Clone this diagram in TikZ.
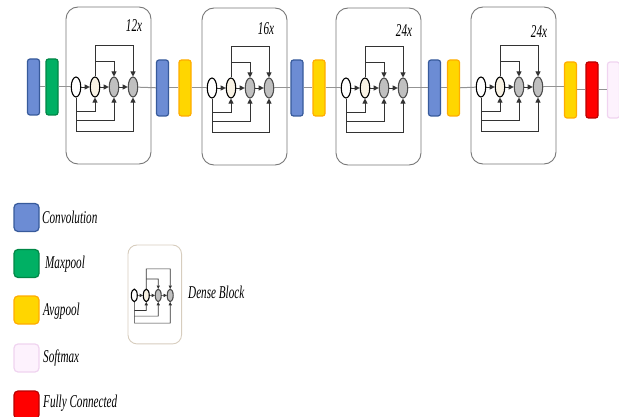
\documentclass[tikz,border=0pt]{standalone}
\usepackage{fontspec}
\setmainfont{Liberation Serif}
\usetikzlibrary{shapes.geometric,arrows.meta}
\definecolor{convF}{RGB}{108,140,212}
\definecolor{convD}{RGB}{55,90,155}
\definecolor{mpF}{RGB}{0,176,100}
\definecolor{mpD}{RGB}{0,135,70}
\definecolor{avF}{RGB}{255,214,0}
\definecolor{avD}{RGB}{255,172,0}
\definecolor{fcF}{RGB}{255,0,0}
\definecolor{fcD}{RGB}{185,0,0}
\definecolor{smF}{RGB}{253,242,253}
\definecolor{smD}{RGB}{240,212,240}
\definecolor{cream}{RGB}{248,242,228}
\definecolor{cgray}{RGB}{192,192,192}
\definecolor{boxD}{RGB}{120,120,120}
\definecolor{legD}{RGB}{215,205,190}
\newcommand{\lbl}[2][18]{\scalebox{0.62}[1]{\fontsize{#1}{#1}\selectfont\itshape #2}}
\def\dbA{5pt}
\def\dbR{12pt}
\def\dbW{0.8pt}
\tikzset{
  layer/.style={draw, rounded corners=2.5pt, line width=1.2pt, minimum width=12pt, minimum height=56pt, inner sep=0pt},
  conv/.style={layer, fill=convF, draw=convD},
  maxp/.style={layer, fill=mpF, draw=mpD},
  avgp/.style={layer, fill=avF, draw=avD},
  fullc/.style={layer, fill=fcF, draw=fcD},
  softm/.style={layer, fill=smF, draw=smD},
  swatch/.style={draw, rounded corners=4pt, line width=1.2pt, minimum width=25pt, minimum height=28pt, inner sep=0pt},
  mainline/.style={draw=gray!85, line width=1pt},
  cell/.style={ellipse, draw=black, line width=1.1pt, minimum width=9.5pt, minimum height=20pt, inner sep=0pt},
  dline/.style={draw=black!80, line width=\dbW},
  darr/.style={dline, -{Triangle[length=\dbA,width=\dbA]}},
  legtext/.style={anchor=west, inner sep=0pt},
  pics/dense/.style={code={
    \draw[draw=#1, line width=0.9pt, rounded corners=\dbR] (0,0) rectangle (85,157);
    \node[cell, fill=white] (-c1) at (10,80) {};
    \node[cell, fill=cream] (-c2) at (29,80) {};
    \node[cell, fill=cgray, draw=black!70] (-c3) at (48,80) {};
    \node[cell, fill=cgray, draw=black!70] (-c4) at (67,80) {};
    \draw[darr] (-c1) -- (-c2);
    \draw[darr] (-c2) -- (-c3);
    \draw[darr] (-c3) -- (-c4);
    \draw[darr] (-c2.north) -- (29,38) -- (67,38) -- (-c4.north);
    \draw[darr] (29,54) -- (48,54) -- (-c3.north);
    \draw[dline] (-c1.south) -- (10,124);
    \draw[darr] (10,104) -- (29,104) -- (-c2.south);
    \draw[darr] (10,113) -- (48,113) -- (-c3.south);
    \draw[darr] (10,124) -- (67,124) -- (-c4.south);
  }}
}
\begin{document}
\begin{tikzpicture}[x=1pt,y=-1pt]
\useasboundingbox (0,0) rectangle (619,417);
% main row
\node[conv] (cv1) at (33.5,87) {};
\node[maxp] (mp1) at (52,87) {};
\pic (b1) at (66,7) {dense=boxD};
\node[conv] (cv2) at (162.5,88) {};
\node[avgp] (av1) at (185,88) {};
\pic (b2) at (202,8) {dense=boxD};
\node[conv] (cv3) at (297,88) {};
\node[avgp] (av2) at (319,88) {};
\pic (b3) at (336,8) {dense=boxD};
\node[conv] (cv4) at (434.5,88) {};
\node[avgp] (av3) at (453.5,88) {};
\pic (b4) at (471,7) {dense=boxD};
\node[avgp] (av4) at (570.5,90) {};
\node[fullc] (fc1) at (592,90) {};
\node[softm] (sm1) at (613.5,90) {};
% repetition labels
\node (n1) at (134,26) {\lbl{12x}};
\node (n2) at (266,29) {\lbl{16x}};
\node (n3) at (404,31) {\lbl{24x}};
\node (n4) at (539,32) {\lbl{24x}};
% main line
\draw[mainline] (cv1) -- (mp1);
\draw[mainline] (mp1) -- (b1-c1);
\draw[mainline] (b1-c4) -- (cv2);
\draw[mainline] (cv2) -- (av1);
\draw[mainline] (av1) -- (b2-c1);
\draw[mainline] (b2-c4) -- (cv3);
\draw[mainline] (cv3) -- (av2);
\draw[mainline] (av2) -- (b3-c1);
\draw[mainline] (b3-c4) -- (cv4);
\draw[mainline] (cv4) -- (av3);
\draw[mainline] (av3) -- (b4-c1);
\draw[mainline] (b4-c4.east) -- (av4.west |- b4-c4.east);
\draw[mainline] (av4) -- (fc1);
\draw[mainline] (fc1) -- (sm1);
% legend
\node[swatch, fill=convF, draw=convD] (lg1) at (26.5,217.5) {};
\node[legtext] (lt1) at (42,217) {\lbl{Convolution}};
\node[swatch, fill=mpF, draw=mpD] (lg2) at (26.5,263.5) {};
\node[legtext] (lt2) at (45,264) {\lbl{Maxpool}};
\node[swatch, fill=avF, draw=avD] (lg3) at (26.5,310) {};
\node[legtext] (lt3) at (43,311) {\lbl{Avgpool}};
\node[swatch, fill=smF, draw=smD] (lg4) at (26.5,358) {};
\node[legtext] (lt4) at (43,358) {\lbl{Softmax}};
\node[swatch, fill=fcF, draw=fcD] (lg5) at (26.5,405) {};
\node[legtext] (lt5) at (43,403) {\lbl{Fully Connected}};
\def\dbA{3.2pt}
\def\dbR{9pt}
\def\dbW{0.6pt}
\pic[scale=0.63, transform shape] (lgb) at (128,245) {dense=legD};
\node[legtext] (lt6) at (188,292) {\lbl{Dense Block}};
\end{tikzpicture}
\end{document}
